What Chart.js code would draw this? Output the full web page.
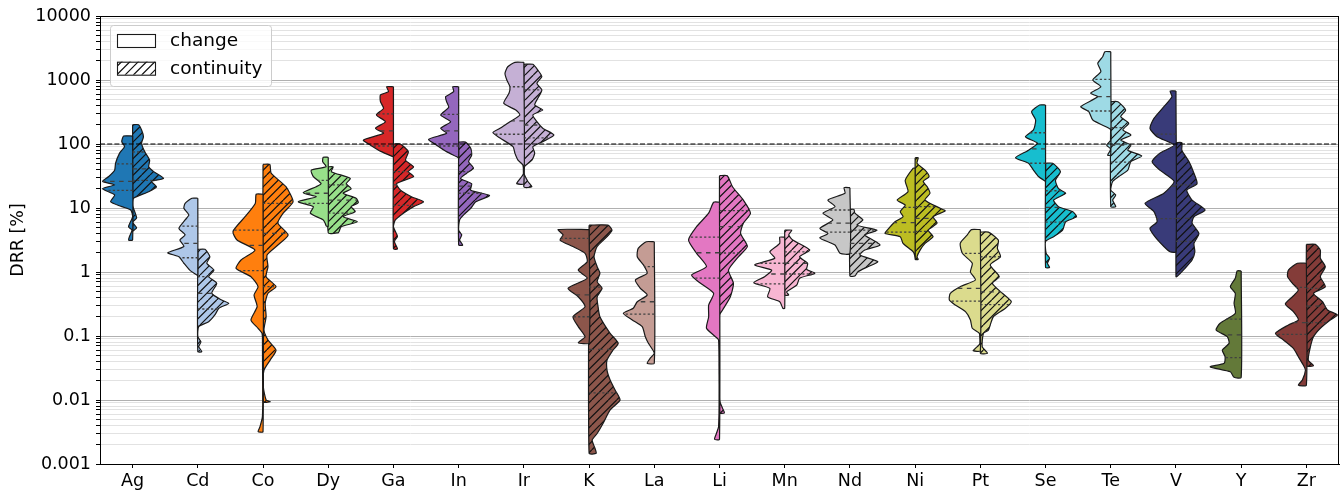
<!DOCTYPE html>
<html>
<head>
<meta charset="utf-8">
<script src="https://cdn.jsdelivr.net/npm/chart.js@4.4.0/dist/chart.umd.min.js"></script>
<style>
  html, body { margin: 0; padding: 0; background: #fff; }
</style>
</head>
<body>
<canvas id="drrChart" width="1344" height="494"></canvas>
<script>
// ---- data ----
const elements = ['Ag', 'Cd', 'Co', 'Dy', 'Ga', 'In', 'Ir', 'K', 'La', 'Li', 'Mn', 'Nd', 'Ni', 'Pt', 'Se', 'Te', 'V', 'Y', 'Zr'];
const palette = ['#1f77b4', '#aec7e8', '#ff7f0e', '#98df8a', '#d62728', '#9467bd', '#c5b0d5', '#8c564b', '#c49c94', '#e377c2',
                 '#f7b6d2', '#c7c7c7', '#bcbd22', '#dbdb8d', '#17becf', '#9edae5', '#393b79', '#637939', '#843c39'];
const legendLabels = ['change', 'continuity'];
const referenceLevel = 100;
const yTickValues = [0.001, 0.01, 0.1, 1, 10, 100, 1000, 10000];
const yTickLabels = ['0.001', '0.01', '0.1', '1', '10', '100', '1000', '10000'];

// half-violin outlines: [DRR %, relative density width], top to bottom
const agChange = [[133,.29],[109,.35],[91,.26],[72,.42],[50,.55],[39,.58],[31,.77],[26,.97],[23,.58],[20,.97],[16,.58],[12.5,.71],[10.5,.35],[9.3,.06],[7.3,0],[5.1,.13],[4.5,.02],[3.6,.1],[3.16,.13]];
const agCont = [[200,.19],[166,.29],[130,.35],[103,.29],[76,.39],[56,.55],[44,.52],[37,.68],[29,1],[26,.61],[21.5,.77],[18,.52],[14.2,.03],[11,0],[7,.13],[6,0],[4.9,.13],[4.4,.02]];
const cdChange = [[14.2,.19],[11.8,.41],[9.9,.45],[7.8,.29],[6.5,.41],[4.8,.61],[3.8,.41],[3.16,.58],[2.5,.45],[2.0,.97],[1.73,.61],[1.37,.45],[1.07,.26],[0.9,.03]];
const cdCont = [[2.26,.23],[1.73,.39],[1.37,.29],[1.07,.52],[0.845,.35],[0.666,.61],[0.465,.45],[0.365,.77],[0.324,1],[0.271,.68],[0.213,.55],[0.167,.35],[0.14,.03],[0.0975,0],[0.081,.1],[0.068,.03],[0.057,.13]];
const coChange = [[16.4,.22],[11.8,.25],[7.3,.58],[4.3,.97],[3.16,.84],[2.2,.26],[1.54,.71],[1.14,.87],[0.845,.39],[0.59,.16],[0.437,.29],[0.287,.19],[0.178,.39],[0.132,.16],[0.11,.03],[0.068,0],[0.026,0],[0.0055,.02],[0.0038,.1],[0.0032,.16]];
const coCont = [[48,.22],[35,.26],[21.5,.74],[12.5,.97],[8.3,.65],[5.8,.48],[3.8,.81],[2.64,.48],[1.84,.13],[1.21,.16],[0.845,.1],[0.59,.42],[0.465,.16],[0.324,.07],[0.2,.1],[0.124,.03],[0.0866,.16],[0.06,.42],[0.042,.23],[0.029,.03],[0.016,.01],[0.01,.1],[0.0094,.23]];
const dyChange = [[62,.16],[53,.18],[44,.07],[39,.55],[31,.48],[24,.23],[21.5,.39],[17.3,.81],[15,.39],[12.5,.97],[10.5,.48],[8.3,.58],[6.5,.16],[5.8,.1],[5.2,.06]];
const dyCont = [[44,.16],[37,.1],[29,.71],[24,.58],[20,.74],[17,.48],[14.2,.9],[12.1,.97],[10.5,.74],[8.8,.87],[7.3,.48],[6.1,.94],[5.1,.42],[4.3,.35],[4.1,.32]];
const gaChange = [[785,.22],[656,.16],[583,.42],[458,.42],[361,.32],[284,.55],[223,.26],[176,.58],[147,.32],[115,.97],[96,.74],[76,.39],[63,0]];
const gaCont = [[100,.22],[76,.48],[56,.39],[44,.65],[37,.48],[31,.65],[24,.1],[19,.23],[15,.58],[12.5,.97],[10.5,.65],[8.3,.32],[6.5,.06],[5.1,0],[3.6,.13],[3.0,.03],[2.3,.13]];
const inChange = [[785,.19],[656,.16],[548,.42],[458,.39],[374,.32],[284,.58],[223,.26],[176,.58],[147,.39],[118,.97],[96,.71],[76,.39],[63,.06],[60,0]];
const inCont = [[107,.22],[86,.39],[67,.42],[53,.32],[42,.48],[35,.26],[29,.06],[24,.42],[19,.39],[15.7,1],[12.5,.55],[9.9,.39],[7.8,.16],[6.5,.03],[4.5,0],[3.8,.1],[3.16,.03],[2.64,.13]];
const irChange = [[1890,.29],[1610,.52],[1270,.61],[1000,.55],[785,.45],[620,.48],[432,.65],[340,.26],[284,.13],[223,.45],[176,.77],[151,1],[124,.77],[91,.35],[72,.29],[56,.19],[47,.03],[35,0],[26,.19],[24,.23]];
const irCont = [[1760,.29],[1430,.45],[1130,.58],[890,.42],[700,.58],[518,.45],[406,.35],[340,.61],[284,.29],[223,.42],[176,.61],[138,.97],[109,.61],[91,.29],[72,.35],[56,.26],[45,.03],[35,0],[26,.13],[21.5,.26]];
const kChange = [[4.6,1],[3.8,.84],[3.16,.94],[2.5,.52],[1.96,.13],[1.45,.06],[1.07,.35],[0.8,.06],[0.556,.68],[0.41,.35],[0.287,.13],[0.2,.52],[0.14,.35],[0.0975,.13],[0.0785,.35]];
const kCont = [[5.4,.61],[4.5,.74],[3.56,.58],[2.5,.26],[1.73,.16],[1.21,.26],[0.955,.35],[0.705,.26],[0.556,.42],[0.41,.26],[0.287,.29],[0.2,.35],[0.11,.68],[0.077,.94],[0.06,.77],[0.042,.58],[0.029,.58],[0.0205,.68],[0.0143,.84],[0.01,1],[0.007,.68],[0.0043,.45],[0.003,.26],[0.00237,.1],[0.00176,.19],[0.00147,.23]];
const laChange = [[2.97,.26],[2.34,.52],[1.73,.55],[1.29,.35],[0.955,.23],[0.75,.61],[0.556,.45],[0.437,.23],[0.343,.55],[0.271,.68],[0.226,1],[0.178,.71],[0.14,.39],[0.0975,.29],[0.077,.19],[0.054,0],[0.045,.13],[0.0375,.23]];
const liChange = [[12.3,.19],[8.3,.35],[5.1,.74],[3.16,1],[1.96,.74],[1.21,.42],[0.9,.9],[0.705,.68],[0.465,.19],[0.305,.35],[0.2,.35],[0.132,.42],[0.0975,.13],[0.0866,.03],[0.033,0],[0.0038,.03],[0.003,.1],[0.00243,.16]];
const liCont = [[32,.25],[21.5,.42],[13.3,.77],[8.3,1],[5.8,.77],[4.0,.68],[2.5,.9],[1.73,.61],[1.07,.29],[0.666,.45],[0.41,.35],[0.255,.1],[0.213,0],[0.01,0],[0.0074,.1],[0.0063,.16]];
const mnChange = [[3.5,.16],[2.8,.16],[2.07,.48],[1.64,.32],[1.29,.97],[1.07,.42],[0.845,.65],[0.68,1],[0.556,.48],[0.41,.55],[0.343,.16],[0.271,.06]];
const mnCont = [[4.5,.23],[3.8,.13],[3.16,.26],[2.2,.81],[1.73,.48],[1.37,.74],[1.1,.71],[0.955,.97],[0.8,.48],[0.626,.39],[0.49,.06],[0.437,.13]];
const ndChange = [[20.8,.19],[17,.16],[13.3,.71],[10.5,.48],[8.3,.87],[6.5,.55],[4.8,.97],[4.0,.71],[3.4,.97],[2.64,.48],[1.96,.32]];
const ndCont = [[9.5,.13],[8.3,.16],[6.5,.42],[5.4,.23],[4.5,.87],[3.8,.48],[3.16,.74],[2.64,.97],[2.2,.48],[1.84,.32],[1.45,.9],[1.21,.58],[1.01,.26],[0.866,.16]];
const niChange = [[42,.06],[27,.32],[18,.23],[13.3,.58],[11.1,.32],[8.8,.48],[7.3,.39],[6.1,.65],[4.5,.9],[4.0,.97],[3.56,.48],[2.8,.39],[2.07,.06],[1.73,0]];
const niCont = [[61,.1],[50,.06],[39,.32],[31,.45],[26,.26],[21.5,.39],[17,.48],[13.3,.32],[9.9,.81],[9.0,.97],[7.3,.58],[5.8,.71],[4.5,.42],[3.56,.58],[2.8,.32],[2.2,.16],[1.73,.06],[1.58,.1]];
const ptChange = [[4.6,.29],[3.8,.42],[2.8,.65],[1.96,.58],[1.37,.26],[1.0,.32],[0.75,.16],[0.59,.65],[0.465,.97],[0.365,1],[0.305,.81],[0.24,.48],[0.178,.32],[0.132,.26],[0.11,.03],[0.077,0],[0.064,.16],[0.059,.23]];
const ptCont = [[4.2,.26],[3.16,.58],[2.34,.55],[1.73,.65],[1.29,.32],[0.845,.61],[0.666,.39],[0.465,.71],[0.343,1],[0.271,.81],[0.2,.42],[0.149,.32],[0.124,.26],[0.11,.1],[0.068,.06],[0.054,.23]];
const seChange = [[406,.19],[320,.45],[237,.32],[166,.39],[130,.65],[103,.26],[80,.55],[61,.97],[50,.55],[39,.39],[31,.23],[26,0]];
const seCont = [[50,.23],[37,.48],[27,.32],[20,.42],[17,.65],[13.3,.26],[10.5,.42],[8.8,.87],[7.3,1],[6.1,.65],[4.5,.55],[3.56,.26],[3.0,0],[1.96,.02],[1.64,.13],[1.37,.06],[1.18,.13]];
const teChange = [[2770,.19],[2310,.26],[1820,.42],[1350,.32],[1000,.58],[785,.32],[620,.65],[548,.42],[383,.97],[320,.71],[237,.58],[176,.06],[166,0],[115,0],[96,.13],[83,0],[67,.1]];
const teCont = [[458,.23],[340,.48],[267,.32],[211,.58],[166,.39],[138,.65],[115,.32],[96,.65],[80,.55],[65,1],[53,.65],[39,.55],[31,.26],[26,.06],[19,0],[16,.16],[13.3,.06],[10.5,.16]];
const vChange = [[673,.19],[548,.13],[383,.39],[252,.71],[176,.84],[130,.61],[96,.06],[72,.52],[53,.77],[39,.52],[26,.06],[17,.39],[11.8,1],[8.8,.71],[6.1,.61],[4.8,.84],[3.56,.68],[2.5,.39],[2.07,.19]];
const vCont = [[105,.19],[80,.19],[53,.42],[35,.58],[24,.68],[19,.35],[13.3,.52],[9.3,.94],[7.3,.58],[5.8,.52],[4.0,.74],[2.8,.58],[2.07,.61],[1.54,.52],[1.14,.29],[0.845,.03]];
const yChange = [[1.04,.13],[0.8,.19],[0.59,.35],[0.465,.19],[0.324,.23],[0.226,.19],[0.158,.68],[0.124,.81],[0.0975,.45],[0.077,.39],[0.06,.61],[0.0475,.52],[0.0375,.55],[0.033,1],[0.0276,.35],[0.0226,.23]];
const zrChange = [[1.37,.29],[1.07,.58],[0.845,.61],[0.666,.45],[0.523,.26],[0.41,.45],[0.316,.68],[0.24,.42],[0.178,.26],[0.149,.58],[0.11,1],[0.0866,.74],[0.064,.42],[0.0475,.26],[0.0352,.1],[0.0295,.03],[0.0205,.13],[0.0171,.26]];
const zrCont = [[2.7,.29],[2.2,.45],[1.64,.45],[1.21,.61],[0.845,.45],[0.59,.61],[0.465,.23],[0.343,.52],[0.255,.68],[0.213,1],[0.178,.77],[0.132,.45],[0.0975,.23],[0.068,.13],[0.042,.06],[0.0344,.23]];

const changeShapes = [agChange, cdChange, coChange, dyChange, gaChange, inChange, irChange, kChange, laChange, liChange,
                      mnChange, ndChange, niChange, ptChange, seChange, teChange, vChange, yChange, zrChange];
const continuityShapes = [agCont, cdCont, coCont, dyCont, gaCont, inCont, irCont, kCont, null, liCont,
                          mnCont, ndCont, niCont, ptCont, seCont, teCont, vCont, null, zrCont];

// [q1, median, q3]
const changeQuartiles = [[18.8,26,49],[1.67,2.8,5.2],[1.05,2.6,4.5],[11.8,17,27],[93,160,295],[93,160,290],[142,229,785],[0.2,0.44,3.36],[0.22,0.343,1.21],[0.8,2.0,3.5],
                         [0.65,0.93,1.37],[4.2,5.8,9.3],[4.2,5.9,10.2],[0.35,0.556,1.96],[50,84,150],[328,548,1020],[6.8,22,143],[0.046,0.104,0.183],[0.106,0.162,0.576]];
const continuityQuartiles = [[27,41,75],[0.264,0.465,0.845],[0.59,4.0,11.8],[8.3,13.3,23],[11,23,37],[17,22,37],[125,198,700],[0.0129,0.062,0.58],null,[1.98,5.1,9.1],
                             [0.93,1.37,2.07],[1.96,2.8,4.5],[4.3,6.9,10.5],[0.31,0.49,1.73],[6.0,10.2,18.6],[52,96,180],[3.0,6.9,23],null,[0.162,0.294,0.556]];

// ---- drawing ----
const HALF_WIDTH = 0.475;
const FONT = 'DejaVu Sans';
Chart.defaults.font.family = FONT;
Chart.defaults.color = '#000';

const canvas = document.getElementById('drrChart');
const ctx = canvas.getContext('2d');

function hatchPattern(color) {
    const size = 25;
    const tile = document.createElement('canvas');
    tile.width = tile.height = size;
    const t = tile.getContext('2d');
    t.fillStyle = color;
    t.fillRect(0, 0, size, size);
    t.strokeStyle = '#111';
    t.lineWidth = 1.2;
    t.beginPath();
    for (let k = -3; k <= 6; k++) {
        const o = k * size / 3;
        t.moveTo(o, size);
        t.lineTo(o + size, 0);
    }
    t.stroke();
    return ctx.createPattern(tile, 'repeat');
}

function widthAt(shape, v) {
    const lv = Math.log10(v);
    for (let j = 0; j < shape.length - 1; j++) {
        const a = Math.log10(shape[j][0]), b = Math.log10(shape[j + 1][0]);
        if (lv <= a && lv >= b) {
            const f = a === b ? 0 : (a - lv) / (a - b);
            return shape[j][1] + f * (shape[j + 1][1] - shape[j][1]);
        }
    }
    return lv > Math.log10(shape[0][0]) ? shape[0][1] : shape[shape.length - 1][1];
}

function halfViolin(i, side, shape, fill) {
    const top = shape[0][0], bottom = shape[shape.length - 1][0];
    const pts = [{x: i, y: top}];
    shape.forEach(([v, w]) => pts.push({x: i + side * w * HALF_WIDTH, y: v}));
    pts.push({x: i, y: bottom});
    pts.push({x: i, y: top});
    return {
        data: pts, showLine: true, fill: 'shape', backgroundColor: fill,
        borderColor: '#1a1a1a', borderWidth: 1.2, pointRadius: 0, tension: 0.2, order: 2
    };
}

function quartileLines(i, side, shape, q) {
    return q.map((v, k) => ({
        data: [{x: i, y: v}, {x: i + side * widthAt(shape, v) * HALF_WIDTH, y: v}],
        showLine: true, fill: false, borderColor: '#404040', borderWidth: 1.3,
        borderDash: k === 1 ? [4.5, 4.5] : [2.2, 2.2], pointRadius: 0, tension: 0, order: 1
    }));
}

const datasets = [{
    data: [{x: -0.5, y: referenceLevel}, {x: 18.5, y: referenceLevel}],
    showLine: true, fill: false, borderColor: '#000', borderWidth: 1.2,
    borderDash: [5, 2.2], pointRadius: 0, order: 0
}];

elements.forEach((el, i) => {
    const left = changeShapes[i], right = continuityShapes[i];
    if (left) {
        datasets.push(halfViolin(i, -1, left, palette[i]));
        datasets.push(...quartileLines(i, -1, left, changeQuartiles[i]));
    }
    if (right) {
        datasets.push(halfViolin(i, 1, right, hatchPattern(palette[i])));
        datasets.push(...quartileLines(i, 1, right, continuityQuartiles[i]));
    }
});

const minorTicks = [];
yTickValues.slice(0, -1).forEach(d => {
    for (let m = 2; m <= 9; m++) minorTicks.push(m * d);
});

const framePlugin = {
    id: 'frame',
    afterDatasetsDraw(chart) {
        const {left, top, right, bottom} = chart.chartArea;
        const c = chart.ctx;
        c.save();
        c.strokeStyle = '#000';
        c.lineWidth = 1;
        c.strokeRect(Math.round(left) + 0.5, Math.round(top) + 0.5, Math.round(right - left) - 1, Math.round(bottom - top));
        c.restore();
    }
};

const legendPlugin = {
    id: 'patchLegend',
    afterDraw(chart) {
        const c = chart.ctx;
        c.save();
        c.beginPath();
        c.roundRect(110.5, 25.5, 161, 61, 3);
        c.fillStyle = 'rgba(255,255,255,0.8)';
        c.fill();
        c.strokeStyle = '#cccccc';
        c.lineWidth = 1;
        c.stroke();

        const fills = ['#ffffff', hatchPattern('#ffffff')];
        c.font = '18.5px "' + FONT + '"';
        c.textBaseline = 'middle';
        legendLabels.forEach((label, k) => {
            const y = 34 + k * 27.7;
            c.fillStyle = fills[k];
            c.fillRect(117, y, 38, 13);
            c.strokeStyle = '#1a1a1a';
            c.lineWidth = 1.1;
            c.strokeRect(117.5, y + 0.5, 38, 13);
            c.fillStyle = '#000';
            c.fillText(label, 170, y + 7.5);
        });
        c.restore();
    }
};

new Chart(ctx, {
    type: 'scatter',
    data: { datasets },
    options: {
        responsive: false,
        animation: false,
        events: [],
        layout: { padding: { top: 16, right: 5, left: 0, bottom: 0 } },
        plugins: { legend: { display: false }, tooltip: { enabled: false } },
        scales: {
            x: {
                type: 'linear', min: -0.5, max: 18.5,
                afterBuildTicks: axis => { axis.ticks = elements.map((_, i) => ({ value: i })); },
                afterFit: axis => { axis.height = 30; },
                ticks: { callback: v => elements[v], font: { size: 17.5 }, color: '#000', padding: 3, autoSkip: false, maxRotation: 0 },
                grid: { drawOnChartArea: false, tickLength: 4, tickColor: '#000' },
                border: { color: '#000' }
            },
            y: {
                type: 'logarithmic', min: 0.001, max: 10000,
                afterBuildTicks: axis => {
                    axis.ticks = yTickValues.concat(minorTicks).sort((a, b) => a - b).map(v => ({ value: v }));
                },
                afterFit: axis => { axis.width = 100; },
                ticks: {
                    callback: v => { const k = yTickValues.indexOf(v); return k >= 0 ? yTickLabels[k] : ''; },
                    font: { size: 17.5 }, color: '#000', padding: 5, autoSkip: false
                },
                grid: {
                    color: c => yTickValues.includes(c.tick.value) ? '#b0b0b0' : '#e2e2e2',
                    lineWidth: 1, tickLength: 4, tickColor: '#000'
                },
                border: { color: '#000' },
                title: { display: true, text: 'DRR [%]', font: { size: 17.5 }, color: '#000', padding: { top: 8, bottom: 0 } }
            }
        }
    },
    plugins: [framePlugin, legendPlugin]
});
</script>
</body>
</html>
